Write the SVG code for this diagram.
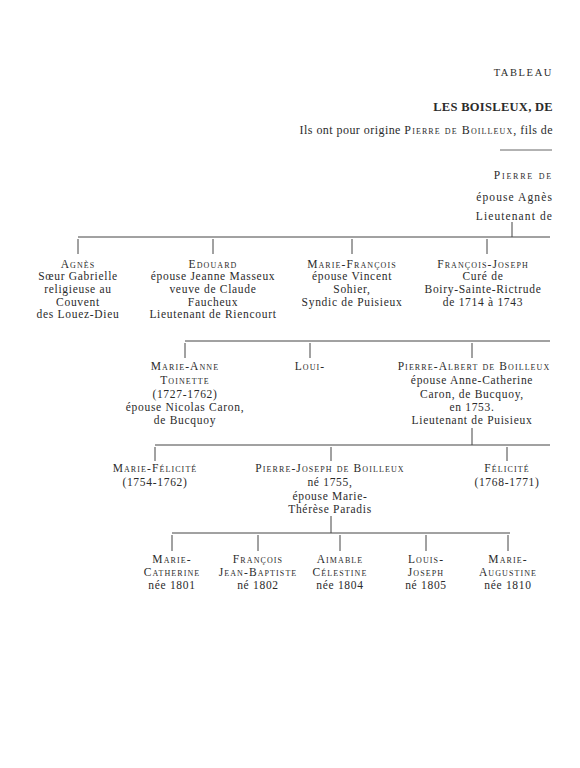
<svg xmlns="http://www.w3.org/2000/svg" width="580" height="768" viewBox="0 0 580 768">
<style>
text{font-family:"Liberation Serif","DejaVu Serif",serif;font-size:11.5px;fill:#2b2b2b;letter-spacing:0.7px}
.n text{text-anchor:middle}
.sc{font-variant:small-caps;letter-spacing:1.1px}
.r{text-anchor:end}
.ln line{stroke:#444;stroke-width:1}
</style>
<rect width="580" height="768" fill="#fff"/>
<g id="header">
<text class="r" x="553" y="76" style="font-size:10.5px;letter-spacing:1.6px">TABLEAU</text>
<text class="r" x="553" y="111" style="font-size:12.5px;font-weight:bold;letter-spacing:0.3px">LES BOISLEUX, DE</text>
<text class="r" x="553" y="134" style="font-size:12px;letter-spacing:0.45px">Ils ont pour origine <tspan class="sc">Pierre de Boilleux</tspan>, fils de</text>
<line x1="500" y1="150" x2="552" y2="150" stroke="#666" stroke-width="1"/>
</g>
<g id="pierre">
<text class="r sc" x="553" y="179" style="letter-spacing:1.8px">Pierre de</text>
<text class="r" x="553" y="201" style="letter-spacing:1.1px">épouse Agnès</text>
<text class="r" x="553" y="220" style="letter-spacing:1.1px">Lieutenant de</text>
</g>
<g id="connectors" class="ln">
<line x1="512" y1="222" x2="512" y2="237"/>
<line x1="78" y1="237" x2="550" y2="237"/>
<line x1="78" y1="239" x2="78" y2="254"/>
<line x1="213" y1="239" x2="213" y2="254"/>
<line x1="352" y1="239" x2="352" y2="254"/>
<line x1="487" y1="239" x2="487" y2="254"/>
<line x1="185" y1="341" x2="550" y2="341"/>
<line x1="185" y1="343" x2="185" y2="358"/>
<line x1="310" y1="343" x2="310" y2="358"/>
<line x1="472" y1="343" x2="472" y2="358"/>
<line x1="472" y1="428" x2="472" y2="445"/>
<line x1="155" y1="445" x2="550" y2="445"/>
<line x1="155" y1="447" x2="155" y2="461"/>
<line x1="331" y1="447" x2="331" y2="461"/>
<line x1="507" y1="447" x2="507" y2="461"/>
<line x1="331" y1="516" x2="331" y2="533"/>
<line x1="172" y1="533" x2="510" y2="533"/>
<line x1="172" y1="535" x2="172" y2="551"/>
<line x1="258" y1="535" x2="258" y2="551"/>
<line x1="340" y1="535" x2="340" y2="551"/>
<line x1="426" y1="535" x2="426" y2="551"/>
<line x1="508" y1="535" x2="508" y2="551"/>
</g>
<g id="agnes" class="n">
<text class="sc" x="78" y="268">Agnès</text>
<text x="78" y="280">Sœur Gabrielle</text>
<text x="78" y="293">religieuse au</text>
<text x="78" y="306">Couvent</text>
<text x="78" y="318">des Louez-Dieu</text>
</g>
<g id="edouard" class="n">
<text class="sc" x="213" y="268">Edouard</text>
<text x="213" y="280">épouse Jeanne Masseux</text>
<text x="213" y="293">veuve de Claude</text>
<text x="213" y="306">Faucheux</text>
<text x="213" y="318">Lieutenant de Riencourt</text>
</g>
<g id="marie-francois" class="n">
<text class="sc" x="352" y="268">Marie-François</text>
<text x="352" y="280">épouse Vincent</text>
<text x="352" y="293">Sohier,</text>
<text x="352" y="306">Syndic de Puisieux</text>
</g>
<g id="francois-joseph" class="n">
<text class="sc" x="483" y="268">François-Joseph</text>
<text x="483" y="280">Curé de</text>
<text x="483" y="293">Boiry-Sainte-Rictrude</text>
<text x="483" y="306">de 1714 à 1743</text>
</g>
<g id="marie-anne" class="n">
<text class="sc" x="185" y="370">Marie-Anne</text>
<text class="sc" x="185" y="384">Toinette</text>
<text x="185" y="398">(1727-1762)</text>
<text x="185" y="411">épouse Nicolas Caron,</text>
<text x="185" y="424">de Bucquoy</text>
</g>
<g id="louis" class="n">
<text class="sc" x="310" y="370">Loui-</text>
</g>
<g id="pierre-albert" class="n">
<text class="sc" x="474" y="370">Pierre-Albert de Boilleux</text>
<text x="472" y="384">épouse Anne-Catherine</text>
<text x="472" y="398">Caron, de Bucquoy,</text>
<text x="472" y="411">en 1753.</text>
<text x="472" y="424">Lieutenant de Puisieux</text>
</g>
<g id="marie-felicite" class="n">
<text class="sc" x="155" y="472">Marie-Félicité</text>
<text x="155" y="486">(1754-1762)</text>
</g>
<g id="pierre-joseph" class="n">
<text class="sc" x="330" y="472">Pierre-Joseph de Boilleux</text>
<text x="330" y="486">né 1755,</text>
<text x="330" y="500">épouse Marie-</text>
<text x="330" y="513">Thérèse Paradis</text>
</g>
<g id="felicite" class="n">
<text class="sc" x="507" y="472">Félicité</text>
<text x="507" y="486">(1768-1771)</text>
</g>
<g id="marie-catherine" class="n">
<text class="sc" x="172" y="563">Marie-</text>
<text class="sc" x="172" y="576">Catherine</text>
<text x="172" y="589">née 1801</text>
</g>
<g id="francois" class="n">
<text class="sc" x="258" y="563">François</text>
<text class="sc" x="258" y="576">Jean-Baptiste</text>
<text x="258" y="589">né 1802</text>
</g>
<g id="aimable" class="n">
<text class="sc" x="340" y="563">Aimable</text>
<text class="sc" x="340" y="576">Célestine</text>
<text x="340" y="589">née 1804</text>
</g>
<g id="louis-joseph" class="n">
<text class="sc" x="426" y="563">Louis-</text>
<text class="sc" x="426" y="576">Joseph</text>
<text x="426" y="589">né 1805</text>
</g>
<g id="marie-augustine" class="n">
<text class="sc" x="508" y="563">Marie-</text>
<text class="sc" x="508" y="576">Augustine</text>
<text x="508" y="589">née 1810</text>
</g>
</svg>
